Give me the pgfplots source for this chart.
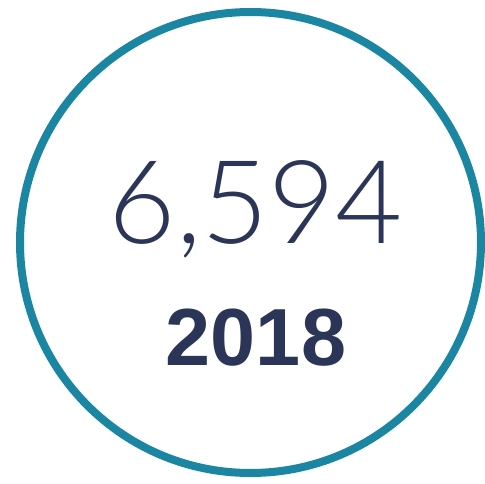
\documentclass[border=0pt]{standalone}
\usepackage{pgfplots}
\pgfplotsset{compat=1.18}
\usepackage{fontspec}
\setmainfont{Liberation Sans}
\newfontfamily\lightfont{Lato Light}
\definecolor{ringteal}{HTML}{1A86A2}
\definecolor{navy}{HTML}{2B3557}
\begin{document}
\begin{tikzpicture}
\begin{axis}[
    width=485pt, height=483pt,
    scale only axis,
    xmin=0, xmax=485,
    ymin=0, ymax=483,
    axis lines=none,
    ticks=none,
]
    % invisible corners so the page keeps the full frame
    \addplot[draw=none, mark=none] coordinates {(0,0) (485,483)};

    % the ring
    \addplot[
        only marks,
        mark=o,
        mark size=230.5pt,
        mark options={draw=ringteal, line width=8pt},
    ] coordinates {(250.5,240.5)};

    \node[anchor=base, text=navy, inner sep=0pt]
        at (axis cs:256,240) {\lightfont\fontsize{116}{120}\selectfont 6,594};
    \node[anchor=base, text=navy, inner sep=0pt]
        at (axis cs:256,118) {\fontsize{81}{90}\selectfont\bfseries 2018};
\end{axis}
\end{tikzpicture}
\end{document}
